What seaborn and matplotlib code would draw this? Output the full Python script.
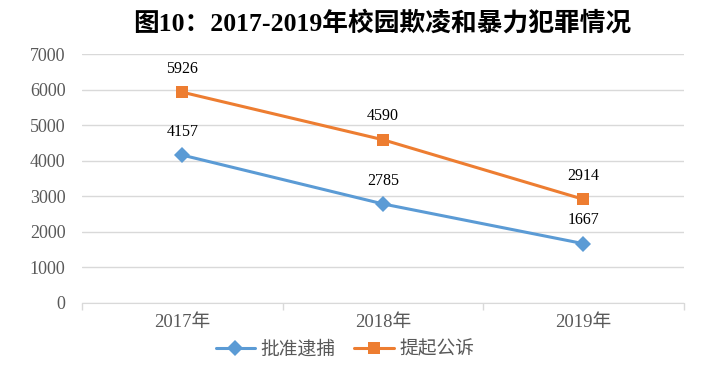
import pandas as pd
import matplotlib.pyplot as plt
import seaborn as sns

# chart data
years = ["2017年", "2018年", "2019年"]
arrests = [4157, 2785, 1667]
prosecutions = [5926, 4590, 2914]
series_names = ["批准逮捕", "提起公诉"]

df = pd.DataFrame({
    "year": years * 2,
    "count": arrests + prosecutions,
    "series": [series_names[0]] * 3 + [series_names[1]] * 3,
})

sns.set_style("white")
plt.rcParams['font.family'] = ['Liberation Serif', 'Noto Sans CJK SC', 'DejaVu Sans']

fig = plt.figure(figsize=(7.02, 3.65), dpi=100)
ax = fig.add_axes([0.117, 0.170, 0.857, 0.682])

palette = {series_names[0]: "#5B9BD5", series_names[1]: "#ED7D31"}
markers = {series_names[0]: "D", series_names[1]: "s"}
sns.lineplot(data=df, x="year", y="count", hue="series", style="series",
             palette=palette, markers=markers, dashes=False, linewidth=2.2,
             markersize=8, markeredgewidth=0, ax=ax, legend=True)

# data labels
for vals in (arrests, prosecutions):
    for i, v in enumerate(vals):
        ax.annotate(str(v), (i, v), xytext=(0, 11), textcoords="offset points",
                    ha="center", va="bottom", fontsize=11.5, color="#000000")

ax.set_xlim(-0.5, 2.5)
ax.set_ylim(0, 7000)
ax.set_yticks(range(0, 7001, 1000))
ax.yaxis.grid(True, color="#D9D9D9", linewidth=1)
ax.set_axisbelow(True)
for s in ["top", "right", "left"]:
    ax.spines[s].set_visible(False)
ax.spines["bottom"].set_color("#D9D9D9")
ax.set_xlabel("")
ax.set_ylabel("")
ax.tick_params(axis="y", length=0, labelsize=13, colors="#595959", pad=12)
ax.tick_params(axis="x", length=0, labelsize=13.5, colors="#595959", pad=8)
# category boundary tick marks
ax.set_xticks([-0.5, 0.5, 1.5, 2.5], minor=True)
ax.tick_params(axis="x", which="minor", bottom=True, length=5, color="#D9D9D9", width=1)

ax.legend(loc="upper center", bbox_to_anchor=(0.437, -0.1), ncol=2, frameon=False,
          fontsize=13.5, handlelength=2.1, columnspacing=1.0, handletextpad=0.3,
          labelcolor="#595959", borderpad=0.2)

fig.text(0.544, 0.937, "图10：2017-2019年校园欺凌和暴力犯罪情况", ha="center", va="center",
         fontsize=18.5, fontweight="bold", color="#000000")

fig.savefig("out.png", dpi=100)
